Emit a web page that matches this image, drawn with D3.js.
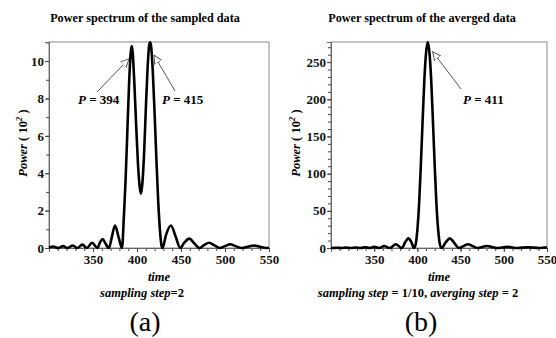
<!DOCTYPE html>
<html>
<head>
<meta charset="utf-8">
<script src="https://cdn.jsdelivr.net/npm/d3@7"></script>
<style>
  body { margin: 0; background: #fff; }
  svg { display: block; }
</style>
</head>
<body>
<svg class="chart"></svg>
<script>

var serif = "'Liberation Serif'";

// panel (a): sampled data, power in units of 10^2
var timeA  = [300, 305, 310, 316, 321, 327, 332, 338, 343, 349, 355, 358, 361, 364, 368, 371, 375, 379, 383,
              385, 387, 389, 391, 393, 394, 395, 397, 399, 401, 403, 404.5, 406, 408, 410, 412, 414, 415, 416,
              418, 420, 422, 424, 426, 428, 429, 433, 438.5, 444, 449, 454, 459.5, 465, 471, 476, 482, 488,
              494, 500, 506, 512, 519, 526, 533, 540, 547, 550];
var powerA = [0.02, 0.08, 0, 0.1, 0, 0.13, 0, 0.18, 0, 0.28, 0, 0.3, 0.48, 0.25, 0, 0.5, 1.2, 0.6, 0,
              1.6, 3.6, 6.2, 8.8, 10.5, 10.8, 10.5, 8.8, 6.6, 4.6, 3.3, 2.9, 3.4, 5.0, 7.4, 9.6, 10.9, 11.0, 10.8,
              9.4, 7.2, 4.8, 2.6, 1.0, 0.1, 0, 0.7, 1.2, 0.6, 0, 0.3, 0.5, 0.25, 0, 0.15, 0.28, 0.14,
              0, 0.1, 0.2, 0.1, 0, 0.07, 0.13, 0.06, 0, 0.01];

// panel (b): averaged data
var timeB  = [300, 302, 307, 312, 317.5, 323, 328.5, 334, 339.5, 345, 350, 356, 361.5, 368, 375, 382, 386, 389.5,
              393, 396, 398, 400, 402, 404, 406, 408, 410, 412, 414, 416, 418, 420, 422, 424, 426, 428,
              433, 437.5, 442, 448, 458.5, 469.5, 480.5, 492, 504, 516, 528, 541, 548, 550];
var powerB = [0.2, 0, 0.4, 0, 0.5, 0, 0.7, 0, 1.0, 0, 1.5, 0, 2.6, 0, 5, 0, 8, 13,
              8, 0, 5, 25, 60, 112, 170, 225, 262, 277, 262, 225, 170, 112, 60, 25, 5, 0,
              8, 13, 8, 0, 5, 0, 2.6, 0, 1.5, 0, 1.0, 0, 0.7, 0.5];

var xTicks = [350, 400, 450, 500, 550];
var yTicksA = [0, 2, 4, 6, 8, 10];
var yTicksB = [0, 50, 100, 150, 200, 250];

var width = 556, height = 338;

var svg = d3.select(".chart")
  .attr("width", width)
  .attr("height", height);

var defs = svg.append("defs");
defs.append("marker")
  .attr("id", "open-arrow")
  .attr("viewBox", "0 0 10 10")
  .attr("refX", 9).attr("refY", 5)
  .attr("markerWidth", 9).attr("markerHeight", 9)
  .attr("markerUnits", "userSpaceOnUse")
  .attr("orient", "auto")
  .append("path")
  .attr("d", "M0,0.5 L9.5,5 L0,9.5 Z")
  .attr("fill", "#fff")
  .attr("stroke", "#555")
  .attr("stroke-width", 1.1);

function drawPanel(p) {
  var g = svg.append("g");

  var x = d3.scaleLinear().domain([300, 550]).range([p.left, p.right]);
  var y = d3.scaleLinear().domain([0, p.ymax]).range([248, 42]);

  // frame
  g.append("rect")
    .attr("x", p.left).attr("y", 42)
    .attr("width", p.right - p.left).attr("height", 206)
    .attr("fill", "none")
    .attr("stroke", "#8a8a8a")
    .attr("stroke-width", 1);

  // minor ticks
  var xAxisMinor = d3.axisBottom(x).tickValues(d3.range(310, 551, 10)).tickSize(3).tickFormat("");
  g.append("g").attr("transform", "translate(0,248)").call(xAxisMinor);
  var yAxisMinor = d3.axisLeft(y).tickValues(d3.range(0, p.ymax, p.yminor)).tickSize(3).tickFormat("");
  g.append("g").attr("transform", "translate(" + p.left + ",0)").call(yAxisMinor);

  var xAxis = d3.axisBottom(x).tickValues(xTicks).tickSize(4).tickPadding(3);
  g.append("g").attr("transform", "translate(0,248)").call(xAxis);
  var yAxis = d3.axisLeft(y).tickValues(p.yTicks).tickSize(4).tickPadding(1);
  g.append("g").attr("transform", "translate(" + p.left + ",0)").call(yAxis);

  g.selectAll(".domain").attr("stroke", "#666");
  g.selectAll(".tick line").attr("stroke", "#444");
  g.selectAll(".tick text")
    .attr("fill", "#111")
    .style("font-family", serif)
    .style("font-size", "13px")
    .style("font-weight", "bold");

  // spectrum
  var line = d3.line()
    .x(function(d, i) { return x(p.times[i]); })
    .y(function(d) { return y(d); })
    .curve(d3.curveMonotoneX);

  g.append("path")
    .datum(p.power)
    .attr("d", line)
    .attr("fill", "none")
    .attr("stroke", "#000")
    .attr("stroke-width", 2.6)
    .attr("stroke-linejoin", "round");

  // title
  g.append("text")
    .attr("x", p.titleX).attr("y", 22)
    .attr("text-anchor", "middle")
    .style("font-family", serif)
    .style("font-weight", "bold")
    .style("font-size", "12.2px")
    .text(p.title);

  // y label
  var yl = g.append("text")
    .attr("transform", "translate(" + p.ylabelX + ",143) rotate(-90)")
    .attr("text-anchor", "middle")
    .style("font-family", serif)
    .style("font-weight", "bold")
    .style("font-size", "12.5px");
  yl.append("tspan").style("font-style", "italic").text("Power");
  yl.append("tspan").text(" ( 10");
  yl.append("tspan").style("font-style", "italic").style("font-size", "9px").attr("dy", -5).text("2");
  yl.append("tspan").attr("dy", 5).text(" )");

  // x label
  g.append("text")
    .attr("x", (p.left + p.right) / 2).attr("y", 281)
    .attr("text-anchor", "middle")
    .style("font-family", serif)
    .style("font-weight", "bold")
    .style("font-style", "italic")
    .style("font-size", "12.5px")
    .text("time");

  var cap = g.append("text")
    .attr("x", p.captionX).attr("y", 297)
    .attr("text-anchor", "middle")
    .style("font-family", serif)
    .style("font-weight", "bold")
    .style("font-size", "12.5px");
  p.caption.forEach(function(c) {
    cap.append("tspan").style("font-style", c[1] ? "italic" : "normal").text(c[0]);
  });

  g.append("text")
    .attr("x", p.captionX + 3).attr("y", 331)
    .attr("text-anchor", "middle")
    .style("font-family", serif)
    .style("font-size", "28px")
    .text(p.letter);

  // peak annotations
  p.notes.forEach(function(n) {
    g.append("line")
      .attr("x1", n.from[0]).attr("y1", n.from[1])
      .attr("x2", x(n.peak) + n.dx).attr("y2", y(n.value) + n.dy)
      .attr("stroke", "#555")
      .attr("stroke-width", 1)
      .attr("marker-end", "url(#open-arrow)");
    var t = g.append("text")
      .attr("x", n.textX).attr("y", 104)
      .style("font-family", serif)
      .style("font-weight", "bold")
      .style("font-size", "13px");
    t.append("tspan").style("font-style", "italic").text("P");
    t.append("tspan").text(" = " + n.peak);
  });
}

drawPanel({
  left: 49, right: 269, ymax: 11.02, yminor: 1, yTicks: yTicksA,
  times: timeA, power: powerA,
  title: "Power spectrum of the sampled data", titleX: 145,
  ylabelX: 27, captionX: 142, letter: "(a)",
  caption: [["sampling step", true], ["=2", false]],
  notes: [
    { peak: 394, value: 10.8, dx: -3, dy: 13, from: [97, 92], textX: 78 },
    { peak: 415, value: 11.0, dx: 4, dy: 13, from: [175, 91], textX: 162 }
  ]
});

drawPanel({
  left: 331, right: 547, ymax: 277, yminor: 10, yTicks: yTicksB,
  times: timeB, power: powerB,
  title: "Power spectrum of the averged data", titleX: 422,
  ylabelX: 300, captionX: 418, letter: "(b)",
  caption: [["sampling step", true], [" = 1/10,  ", false], ["averging step", true], [" = 2", false]],
  notes: [
    { peak: 411, value: 277, dx: 6, dy: 10, from: [461, 89], textX: 463 }
  ]
});

</script>
</body>
</html>
